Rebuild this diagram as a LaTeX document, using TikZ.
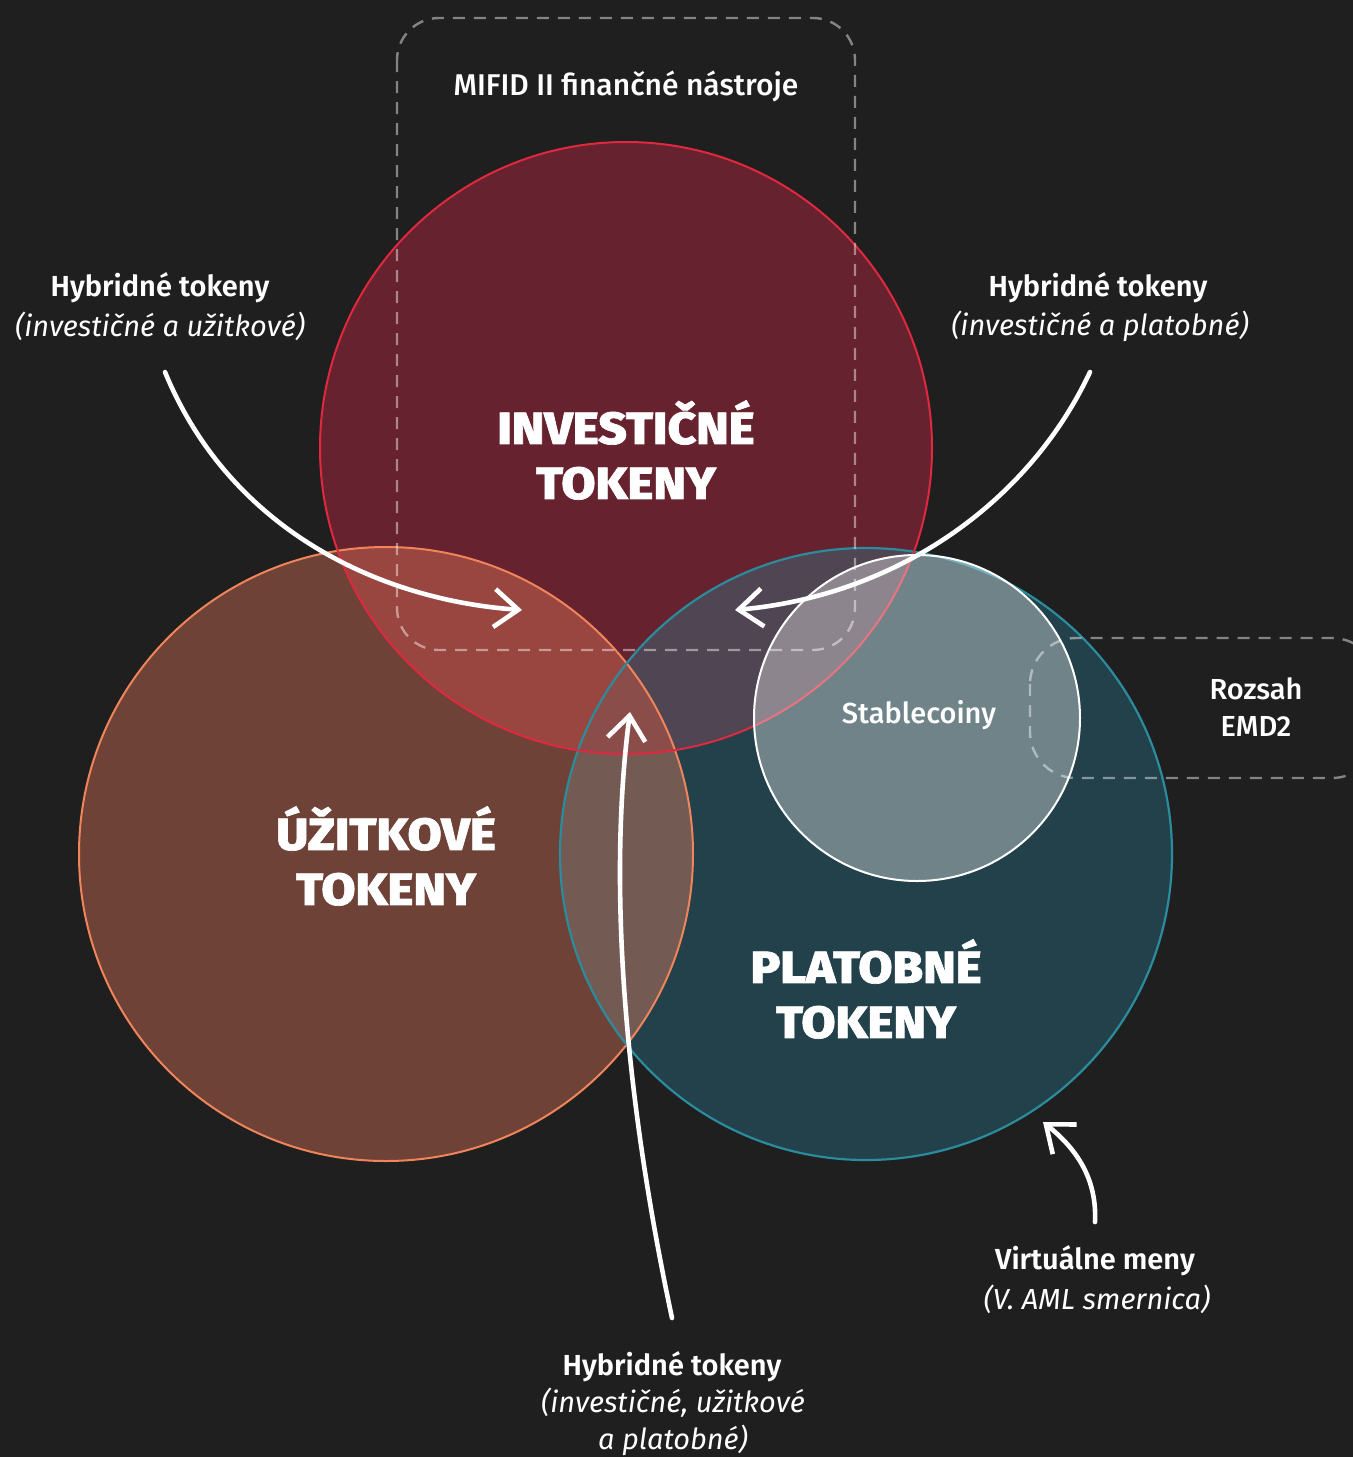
\documentclass[tikz,border=0pt]{standalone}
\usepackage{fontspec}
\setmainfont{Fira Sans}
\newfontfamily\labelfont{Fira Sans Medium}
\newfontfamily\boldlabel{Fira Sans SemiBold}
\IfFontExistsTF{Fira Sans Italic}
  {\newfontfamily\noteitalic{Fira Sans Italic}}
  {\newfontfamily\noteitalic{Fira Sans Light Italic}[FakeBold=0.6]}
\newfontfamily\heavyfont{Fira Sans ExtraBold}[FakeStretch=1.1,FakeBold=1.5]
\usetikzlibrary{arrows.meta}

\definecolor{bgcol}{HTML}{1F1F1F}
\definecolor{invfill}{HTML}{66222E}
\definecolor{utilfill}{HTML}{6E4236}
\definecolor{payfill}{HTML}{22414A}
\definecolor{invutil}{HTML}{994540}
\definecolor{invpay}{HTML}{504552}
\definecolor{utilpay}{HTML}{735A52}
\definecolor{allthree}{HTML}{8B4D4A}
\definecolor{invline}{HTML}{E0283F}
\definecolor{utilline}{HTML}{F0845A}
\definecolor{payline}{HTML}{2A8C9C}

\tikzset{
  scopebox/.style={draw=white, draw opacity=0.45, line width=1.2pt, dash pattern=on 6pt off 4.5pt, rounded corners=21pt},
  pointer/.style={draw=white, line width=2.3pt, line cap=round, -{Straight Barb[length=12pt,width=19pt,line width=2.3pt]}},
  title/.style={text=white, align=center, font=\heavyfont\fontsize{22.5}{27.5}\selectfont},
  heading/.style={text=white, align=center, font=\boldlabel\fontsize{14.5}{18.5}\selectfont},
  plain/.style={text=white, align=center, font=\labelfont\fontsize{14.5}{18.5}\selectfont},
  note/.style={text=white, align=center, font=\noteitalic\fontsize{14.5}{18.5}\selectfont},
}

\begin{document}
\begin{tikzpicture}[x=0.5pt,y=-0.5pt]
  \fill[bgcol] (0,0) rectangle (1353,1457);
  \useasboundingbox (0,0) rectangle (1353,1457);

  % circle centres
  \coordinate (ci) at (626,448);
  \coordinate (cu) at (386,854);
  \coordinate (cp) at (866,854);
  \coordinate (cs) at (917,718);

  % base fills
  \fill[invfill]  (ci) circle[radius=153pt];
  \fill[utilfill] (cu) circle[radius=153.5pt];
  \fill[payfill]  (cp) circle[radius=153pt];

  % overlaps
  \begin{scope}
    \clip (cu) circle[radius=153.5pt];
    \fill[utilpay] (cp) circle[radius=153pt];
  \end{scope}
  \begin{scope}
    \clip (ci) circle[radius=153pt];
    \fill[invutil] (cu) circle[radius=153.5pt];
    \fill[invpay]  (cp) circle[radius=153pt];
    \begin{scope}
      \clip (cu) circle[radius=153.5pt];
      \fill[allthree] (cp) circle[radius=153pt];
    \end{scope}
  \end{scope}

  % outlines
  \draw[utilline, line width=1pt] (cu) circle[radius=153.5pt];
  \draw[payline,  line width=1.1pt] (cp) circle[radius=153pt];
  \draw[invline,  line width=1pt] (ci) circle[radius=153pt];

  % stablecoins
  \fill[white, fill opacity=0.35] (cs) circle[radius=81.5pt];
  \draw[white, line width=1pt] (cs) circle[radius=81.5pt];

  % regulatory scopes
  \draw[scopebox] (397,18) rectangle (855,650);
  \draw[scopebox, rounded corners=23pt] (1030,638) rectangle (1378,778);

  % texts
  \node[plain, font=\labelfont\fontsize{15}{18.5}\selectfont] (mifid) at (626,86) {MIFID II finančné nástroje};

  \node[heading] (hl) at (160,288) {Hybridné tokeny};
  \node[note] (hln) at (160,326) {(investičné a užitkové)};
  \node[heading] (hr) at (1098,288) {Hybridné tokeny};
  \node[note] (hrn) at (1100,326) {(investičné a platobné)};

  \node[title] (inv) at (626,450) {INVESTIČNÉ\\TOKENY};
  \node[title] (util) at (386,856) {ÚŽITKOVÉ\\TOKENY};
  \node[title] (pay) at (866,989) {PLATOBNÉ\\TOKENY};

  \node[plain] (stable) at (919,715) {Stablecoiny};
  \node[plain] (emd) at (1256,707) {Rozsah\\EMD2};

  \node[heading] (vm) at (1095,1261) {Virtuálne meny};
  \node[note] (vmn) at (1097,1299) {(V. AML smernica)};

  \node[heading] (hb) at (672,1367) {Hybridné tokeny};
  \node[note] (hbn) at (673,1422) {(investičné, užitkové\\a platobné)};

  % arrow anchors
  \coordinate (tl) at (165,372);
  \coordinate (el) at (522,610);
  \coordinate (tr) at (1090,372);
  \coordinate (er) at (735,610);
  \coordinate (tb) at (672,1318);
  \coordinate (eb) at (630,712);
  \coordinate (tv) at (1095,1222);
  \coordinate (ev) at (1043,1122);

  % pointers
  \draw[pointer] (tl) .. controls (230,530) and (380,600) .. (el);
  \draw[pointer] (tr) .. controls (1030,500) and (900,595) .. (er);
  \draw[pointer] (tb) .. controls (615,1050) and (612,850) .. (eb);
  \draw[pointer] (tv) .. controls (1097,1180) and (1078,1150) .. (ev);
\end{tikzpicture}
\end{document}
